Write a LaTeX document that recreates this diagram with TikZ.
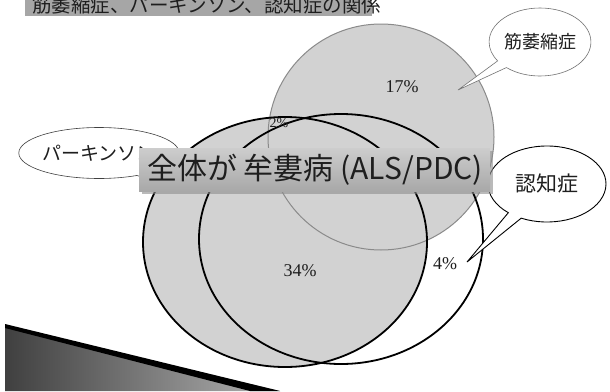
\documentclass[tikz,border=0pt]{standalone}
\usepackage{fontspec}
\setmainfont{Liberation Serif}
\newfontfamily\jp{Noto Sans CJK JP}
\usetikzlibrary{shapes.callouts,shadows}
\definecolor{circfill}{HTML}{D2D2D2}
\definecolor{circline}{HTML}{8A8A8A}
\definecolor{bartop}{HTML}{CDCDCD}
\definecolor{barbot}{HTML}{A8A8A8}
\definecolor{txtdark}{HTML}{1E1E1E}
\tikzset{
  pct/.style={font=\fontsize{18}{18}\selectfont, text=txtdark, inner sep=0},
  bubble/.style={ellipse callout, draw=black!75, line width=0.6pt, fill=white,
    inner sep=0, font=\jp\fontsize{19}{19}\selectfont, text=txtdark},
  venn/.style={draw=black, line width=1.8pt},
}
\begin{document}
\begin{tikzpicture}[x=1pt,y=-1pt]
\useasboundingbox (0,0) rectangle (610,391);
\begin{scope}
\clip (0,0) rectangle (610,391);
\fill[white] (0,0) rectangle (610,391);
% title bar
\fill[black!35] (25,0) rectangle (372,16);
\node[anchor=base west, inner sep=0, font=\jp\fontsize{19.5}{19.5}\selectfont, text=txtdark] (title) at (32,12) {筋萎縮症、パーキンソン、認知症の関係};
% fills
\fill[circfill] (381,137) circle [radius=113];
\fill[circfill] (285,242) ellipse [x radius=142, y radius=125];
% outlines
\draw[circline, line width=1pt] (381,137) circle [radius=113];
\draw[venn] (285,242) ellipse [x radius=142, y radius=125];
\draw[venn] (341,239) ellipse [x radius=142, y radius=125];
% labels
\node[pct] (p17) at (402,87) {17\%};
\node[pct, font=\fontsize{14}{14}\selectfont] (p2) at (279,123) {2\%};
\node[pct] (p34) at (300,271) {34\%};
\node[pct] (p4) at (445,264) {4\%};
% callouts
\coordinate (tipP) at (178,188);
\node[bubble, minimum width=156, minimum height=51, callout absolute pointer={(tipP)}] (park) at (99,153) {パーキンソン};
\coordinate (tipA) at (458,90);
\node[bubble, draw=black!55, font=\jp\fontsize{18}{18}\selectfont, minimum width=96, minimum height=68, callout absolute pointer={(tipA)}] (als) at (540,42) {筋萎縮症};
\coordinate (tipD) at (467,262);
\node[bubble, draw=black, line width=0.9pt, font=\jp\fontsize{21}{21}\selectfont, minimum width=118, minimum height=76, callout absolute pointer={(tipD)}] (dem) at (547,184) {認知症};
% banner
\fill[black!45, opacity=0.6] (142,151) rectangle (493,194);
\shade[top color=bartop, bottom color=barbot] (139,148) rectangle (490,191);
\node[inner sep=0, font=\jp\fontsize{30}{30}\selectfont, text=txtdark] (banner) at (315,170) {全体が 牟婁病 (ALS/PDC)};
% bottom-left wedge
\shade[left color=black!75, right color=black!30] (5,326) -- (280,391) -- (5,391) -- cycle;
\fill[black] (5,324) -- (280,391) -- (250,391) -- (5,328) -- cycle;
\end{scope}
\end{tikzpicture}
\end{document}
